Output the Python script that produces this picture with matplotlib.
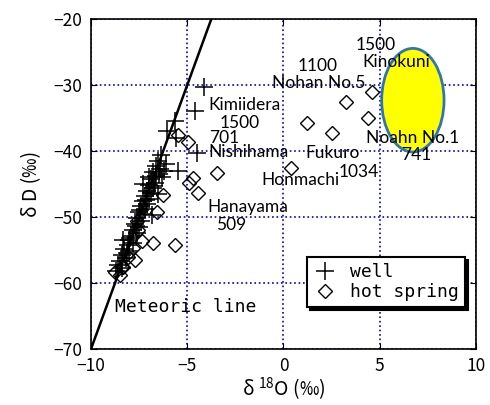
import matplotlib
matplotlib.use("Agg")
import matplotlib.pyplot as plt
from matplotlib.patches import Ellipse

plt.rcParams['font.family'] = ['Noto Sans CJK JP', 'DejaVu Sans']
plt.rcParams['mathtext.default'] = 'regular'

# well samples (d18O, dD)
well_x = [-4.13, -4.6, -5.64, -6.07, -5.6, -4.5, -6.35, -6.1, -5.46,
          -6.5, -6.6, -6.4, -6.8, -6.6, -6.9, -6.7, -7.0, -6.8, -7.1,
          -6.9, -7.2, -7.0, -7.3, -7.1, -7.4, -7.2, -7.5, -7.3, -7.6,
          -7.4, -7.7, -7.5, -7.8, -7.6, -7.9, -8.0, -7.8, -8.1, -8.3,
          -8.0, -8.4, -8.2, -8.5, -8.6, -8.4, -8.7, -6.2, -6.3, -6.5,
          -6.85, -8.35, -7.0, -7.3, -6.45, -6.75, -7.15, -7.45, -7.65,
          -7.95, -8.15]
well_y = [-30.3, -34.0, -35.5, -37.0, -38.0, -40.3, -40.6, -41.9, -43.1,
          -41.5, -42.3, -42.8, -43.2, -43.8, -44.3, -44.8, -45.2, -45.6, -46.0,
          -46.4, -46.8, -47.2, -47.6, -48.0, -48.4, -48.8, -49.2, -49.6, -50.2,
          -50.6, -51.1, -51.5, -52.0, -52.4, -52.9, -53.5, -53.9, -54.3, -54.8,
          -55.2, -55.7, -56.2, -56.6, -57.3, -57.8, -58.2, -43.0, -44.0, -46.5,
          -49.7, -53.5, -44.0, -45.0, -43.5, -45.3, -47.4, -49.0, -51.3,
          -53.2, -55.5]

# hot spring samples (d18O, dD)
spring_x = [4.58, 3.23, 4.37, 1.24, 2.50, 0.39, -3.45, -4.95, -4.69, -4.43,
            -4.9, -5.46, -6.25, -6.59, -7.54, -7.37, -6.77, -5.64, -7.71,
            -8.32, -8.75, -8.49, -8.06, -7.8, -7.6, -8.4]
spring_y = [-31.1, -32.5, -35.0, -35.7, -37.3, -42.5, -43.4, -38.6, -44.1, -46.4,
            -44.9, -37.6, -46.7, -49.2, -52.0, -53.7, -54.0, -54.2, -56.5,
            -57.5, -58.3, -58.8, -56.0, -54.7, -50.6, -57.5]

# global meteoric water line end points
line_x = [-10, -3.75]
line_y = [-70, -20]

# site labels: text, x, y
labels = ["1500", "Kinokuni", "1100", "Nohan No.5", "Kimiidera", "1500",
          "701", "Nishihama", "Fukuro", "1034", "Honmachi", "Hanayama",
          "509", "Noahn No.1", "741"]
label_x = [4.81, 5.84, 1.79, 1.84, -2.0, -2.26, -3.1, -1.84, 2.57, 3.92,
           0.86, -1.84, -2.73, 6.73, 6.88]
label_y = [-23.9, -26.5, -27.1, -29.7, -33.0, -35.8, -38.0, -40.2, -40.3,
           -43.2, -44.4, -48.5, -51.2, -38.0, -40.6]

fig = plt.figure(figsize=(4.9, 4.05), dpi=100)
ax = fig.add_axes([0.1857, 0.1383, 0.7857, 0.8147])

ax.add_patch(Ellipse((6.72, -32.3), 3.24, 15.7, facecolor='#FFFF00',
                     edgecolor='#2E75B6', linewidth=2, zorder=2))

ax.plot(line_x, line_y, color='black', linewidth=1.8, zorder=3)
ax.plot(well_x, well_y, linestyle='none', marker='+', markersize=13,
        markeredgewidth=1.1, color='black', label='well', zorder=4)
ax.plot(spring_x, spring_y, linestyle='none', marker='D', markersize=7.5,
        markerfacecolor='none', markeredgecolor='black', markeredgewidth=1.0,
        label='hot spring', zorder=4)

for t, x, y in zip(labels, label_x, label_y):
    ax.text(x, y, t, fontsize=12.5, family='Lato', ha='center', va='center',
            zorder=5)

ax.text(-5.1, -63.6, "Meteoric line", fontsize=13, family='DejaVu Sans Mono',
        ha='center', va='center')

ax.set_xlim(-10, 10)
ax.set_ylim(-70, -20)
ax.set_xticks([-10, -5, 0, 5, 10])
ax.set_yticks([-70, -60, -50, -40, -30, -20])
ax.grid(True, color='#0000CC', linestyle=':', linewidth=1.2)
ax.tick_params(direction='in', top=True, right=True, length=4,
               labelsize=12.5, pad=6)
for s in ax.spines.values():
    s.set_linewidth(1.2)

ax.set_xlabel('δ $^{18}$O (‰)', fontsize=14, labelpad=0)
ax.set_ylabel('δ D (‰)', fontsize=14, labelpad=8)

leg = ax.legend(loc='lower right', bbox_to_anchor=(0.985, 0.11),
                prop={'family': 'DejaVu Sans Mono', 'size': 13},
                fancybox=False, edgecolor='black', framealpha=1,
                shadow={'color': 'black', 'alpha': 1}, handlelength=1.3,
                handletextpad=0.7, borderpad=0.35, labelspacing=0.1,
                borderaxespad=0.3)
leg.get_frame().set_linewidth(1.5)

fig.savefig('out.png', dpi=100)
